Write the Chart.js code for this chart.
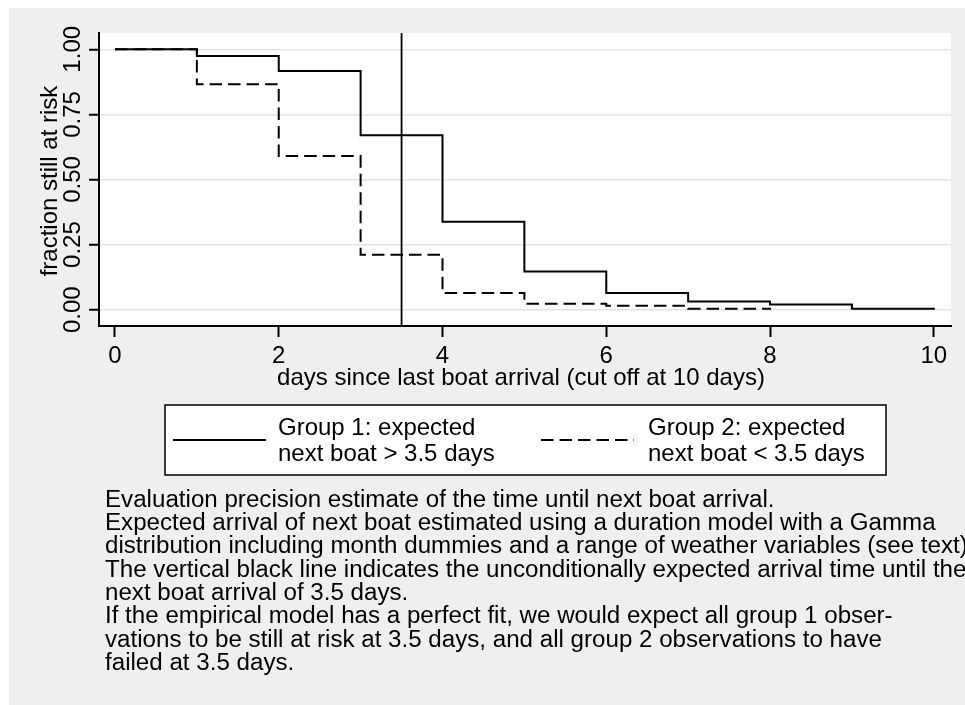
<!DOCTYPE html>
<html>
<head>
<meta charset="utf-8">
<script src="https://cdn.jsdelivr.net/npm/chart.js@4/dist/chart.umd.min.js"></script>
<style>
  html, body { margin: 0; padding: 0; background: #ffffff; }
  canvas { display: block; }
</style>
</head>
<body>
<canvas id="kmChart" width="965" height="705"></canvas>
<script>
// survival steps
const days1 = [0, 1, 2, 3, 4, 5, 6, 7, 8, 9, 10];
const group1 = [1.000, 0.974, 0.917, 0.670, 0.338, 0.147, 0.064, 0.032, 0.020, 0.004, 0.000];
const days2 = [0, 1, 2, 3, 4, 5, 6, 7, 8];
const group2 = [1.000, 0.866, 0.590, 0.211, 0.064, 0.023, 0.015, 0.004, 0.000];
const expectedArrival = 3.5;

const xTicks = [0, 2, 4, 6, 8, 10];
const xTickLabels = ['0', '2', '4', '6', '8', '10'];
const yTicks = [0, 0.25, 0.5, 0.75, 1];
const yTickLabels = ['0.00', '0.25', '0.50', '0.75', '1.00'];

const xTitle = 'days since last boat arrival (cut off at 10 days)';
const yTitle = 'fraction still at risk';
const legend1 = ['Group 1: expected', 'next boat > 3.5 days'];
const legend2 = ['Group 2: expected', 'next boat < 3.5 days'];
const notes = [
  'Evaluation precision estimate of the time until next boat arrival.',
  'Expected arrival of next boat estimated using a duration model with a Gamma',
  'distribution including month dummies and a range of weather variables (see text).',
  'The vertical black line indicates the unconditionally expected arrival time until the',
  'next boat arrival of 3.5 days.',
  'If the empirical model has a perfect fit, we would expect all group 1 obser-',
  'vations to be still at risk at 3.5 days, and all group 2 observations to have',
  'failed at 3.5 days.'
];

const xMin = -0.195, xMax = 10.21;
const yMin = -0.0625, yMax = 1.0625;
const FONT = '"Liberation Sans", Arial, sans-serif';
const dashPattern = [12.5, 6];

document.addEventListener('DOMContentLoaded', () => {

    // fonds: zone grise + zone de tracé blanche
    const backgrounds = {
        id: 'backgrounds',
        beforeDraw(chart) {
            const c = chart.ctx;
            const a = chart.chartArea;
            c.save();
            c.fillStyle = '#ffffff';
            c.fillRect(0, 0, chart.width, chart.height);
            c.fillStyle = '#efefef';
            c.fillRect(9, 8, chart.width - 9, chart.height - 8);
            c.fillStyle = '#ffffff';
            c.fillRect(a.left, a.top, a.right - a.left, a.bottom - a.top);
            c.restore();
        }
    };

    // textes: étiquettes des axes, titres, légende, notes
    const texts = {
        id: 'texts',
        afterDraw(chart) {
            const c = chart.ctx;
            const ys = chart.scales.y;
            const xs = chart.scales.x;
            c.save();
            c.fillStyle = '#000';
            c.font = '24px ' + FONT;

            yTicks.forEach((v, i) => {
                c.save();
                c.translate(80, ys.getPixelForValue(v));
                c.rotate(-Math.PI / 2);
                c.textAlign = 'center';
                c.textBaseline = 'alphabetic';
                c.fillText(yTickLabels[i], 0, 0);
                c.restore();
            });

            c.save();
            c.translate(57, 181);
            c.rotate(-Math.PI / 2);
            c.textAlign = 'center';
            c.fillText(yTitle, 0, 0);
            c.restore();

            c.textAlign = 'center';
            xTicks.forEach((v, i) => {
                c.fillText(xTickLabels[i], xs.getPixelForValue(v), 363);
            });
            c.fillText(xTitle, 521, 385);

            // légende
            c.fillStyle = '#ffffff';
            c.fillRect(165, 405, 721, 70);
            c.strokeStyle = '#000';
            c.lineWidth = 1.5;
            c.strokeRect(165, 405, 721, 70);

            c.lineWidth = 2;
            c.beginPath();
            c.moveTo(173, 440);
            c.lineTo(266, 440);
            c.stroke();
            c.setLineDash(dashPattern);
            c.beginPath();
            c.moveTo(541, 440);
            c.lineTo(634, 440);
            c.stroke();
            c.setLineDash([]);

            c.fillStyle = '#000';
            c.textAlign = 'left';
            c.fillText(legend1[0], 278, 435);
            c.fillText(legend1[1], 278, 461);
            c.fillText(legend2[0], 648, 435);
            c.fillText(legend2[1], 648, 461);

            c.font = '24.15px ' + FONT;
            notes.forEach((line, i) => {
                c.fillText(line, 105, 506.7 + i * 23.33);
            });
            c.restore();
        }
    };

    const config = {
        type: 'line',
        data: {
            datasets: [
                {
                    label: legend1.join(' '),
                    data: days1.map((d, i) => ({ x: d, y: group1[i] })),
                    borderColor: '#000',
                    borderWidth: 2,
                    stepped: true,
                    pointRadius: 0,
                    fill: false
                },
                {
                    label: legend2.join(' '),
                    data: days2.map((d, i) => ({ x: d, y: group2[i] })),
                    borderColor: '#000',
                    borderWidth: 2,
                    borderDash: dashPattern,
                    stepped: true,
                    pointRadius: 0,
                    fill: false
                },
                {
                    label: 'expected arrival',
                    data: [{ x: expectedArrival, y: yMin }, { x: expectedArrival, y: yMax }],
                    borderColor: '#000',
                    borderWidth: 1.8,
                    pointRadius: 0,
                    fill: false
                }
            ]
        },
        options: {
            responsive: false,
            animation: false,
            layout: { padding: { left: 99, top: 33, right: 14, bottom: 379 } },
            plugins: {
                legend: { display: false },
                tooltip: { enabled: false }
            },
            scales: {
                x: {
                    type: 'linear',
                    min: xMin,
                    max: xMax,
                    afterBuildTicks: (s) => { s.ticks = xTicks.map(v => ({ value: v })); },
                    afterFit: (s) => { s.height = 0; },
                    grid: { drawOnChartArea: false, tickLength: 11, tickColor: '#000', tickWidth: 2 },
                    border: { color: '#000', width: 2 },
                    ticks: { display: false }
                },
                y: {
                    type: 'linear',
                    min: yMin,
                    max: yMax,
                    afterBuildTicks: (s) => { s.ticks = yTicks.map(v => ({ value: v })); },
                    afterFit: (s) => { s.width = 0; },
                    grid: { color: '#e4e4e4', lineWidth: 1.5, tickLength: 10, tickColor: '#000', tickWidth: 2 },
                    border: { color: '#000', width: 2 },
                    ticks: { display: false }
                }
            }
        },
        plugins: [backgrounds, texts]
    };

    const ctx = document.getElementById('kmChart').getContext('2d');
    const kmChart = new Chart(ctx, config);
});
</script>
</body>
</html>
